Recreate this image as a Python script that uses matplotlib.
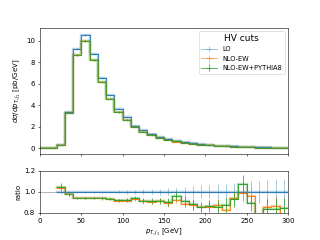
import matplotlib
matplotlib.use("Agg")
import matplotlib.pyplot as plt
import numpy as np

# =================== 数据 (10 GeV bins, 0-300) ===================
bin_edges = np.arange(0, 310, 10)

lo = [0, 0, 0.30, 3.40, 9.26, 10.58, 8.76, 6.56, 4.95, 3.68,
      2.88, 2.12, 1.68, 1.36, 1.07, 0.86, 0.69, 0.56, 0.46, 0.38,
      0.31, 0.26, 0.21, 0.18, 0.15, 0.12, 0.10, 0.085, 0.07, 0.06]
nlo_ew = [0, 0, 0.312, 3.315, 8.667, 9.966, 8.217, 6.140, 4.604, 3.367,
          2.635, 1.982, 1.524, 1.227, 0.974, 0.764, 0.638, 0.496, 0.400, 0.323,
          0.266, 0.227, 0.173, 0.169, 0.148, 0.115, 0.072, 0.0727, 0.0606, 0.0462]
nlo_ew_py8 = [0, 0, 0.315, 3.315, 8.667, 9.966, 8.234, 6.140, 4.618, 3.386,
              2.650, 1.993, 1.537, 1.238, 0.976, 0.774, 0.662, 0.510, 0.404, 0.325,
              0.269, 0.223, 0.183, 0.167, 0.161, 0.107, 0.072, 0.071, 0.0585, 0.0504]

# relative statistical errors
lo_relerr = [0, 0, 0.02, 0.012, 0.008, 0.008, 0.009, 0.01, 0.012, 0.014,
             0.017, 0.02, 0.023, 0.026, 0.03, 0.035, 0.04, 0.05, 0.055, 0.06,
             0.064, 0.07, 0.075, 0.08, 0.088, 0.10, 0.105, 0.11, 0.12, 0.125]
nlo_relerr = [0, 0, 0.025, 0.012, 0.008, 0.008, 0.009, 0.01, 0.012, 0.014,
              0.017, 0.02, 0.023, 0.026, 0.03, 0.035, 0.04, 0.045, 0.05, 0.055,
              0.06, 0.065, 0.07, 0.075, 0.08, 0.09, 0.10, 0.10, 0.11, 0.12]
py8_relerr = [0, 0, 0.035, 0.013, 0.009, 0.009, 0.01, 0.011, 0.013, 0.015,
              0.018, 0.022, 0.025, 0.028, 0.033, 0.04, 0.045, 0.05, 0.055, 0.06,
              0.065, 0.07, 0.075, 0.08, 0.08, 0.09, 0.10, 0.11, 0.12, 0.12]

labels = ["LO", "NLO-EW", "NLO-EW+PYTHIA8"]
colors = ["C0", "C1", "C2"]
err_alpha = [0.45, 0.7, 0.9]

centers = 0.5 * (bin_edges[:-1] + bin_edges[1:])
half_w = 0.5 * np.diff(bin_edges)


def draw_hist(ax, y, err, color, label, ea):
    y = np.asarray(y, dtype=float)
    yy = np.append(y, y[-1])
    # light halo + solid step + error bars
    ax.step(bin_edges, yy, where="post", color=color, lw=3.5, alpha=0.35)
    ax.step(bin_edges, yy, where="post", color=color, lw=1)
    ax.errorbar(centers, y, xerr=half_w, yerr=err, fmt="-", drawstyle="steps-mid",
                color=color, alpha=ea, lw=1.2, elinewidth=1.2, label=label)


fig = plt.figure(figsize=(6.4, 4.8), dpi=50)
ax = fig.add_axes([0.125, 0.358, 0.775, 0.525])
rax = fig.add_axes([0.125, 0.114, 0.775, 0.174], sharex=ax)

series = [lo, nlo_ew, nlo_ew_py8]
relerrs = [lo_relerr, nlo_relerr, py8_relerr]
lo_arr = np.asarray(lo, dtype=float)

for y, re, c, lab, ea in zip(series, relerrs, colors, labels, err_alpha):
    y = np.asarray(y, dtype=float)
    re = np.asarray(re, dtype=float)
    draw_hist(ax, y, y * re, c, lab, ea)

rax.axhline(1.0, color="0.6", lw=1)
with np.errstate(divide="ignore", invalid="ignore"):
    for y, re, c, lab, ea in zip(series, relerrs, colors, labels, err_alpha):
        y = np.asarray(y, dtype=float)
        r = np.where(lo_arr > 0, y / lo_arr, np.nan)
        draw_hist(rax, r, r * np.asarray(re), c, lab, ea)

ax.set_xlim(0, 300)
ax.set_ylabel(r"$d\sigma/dp_{T,j_1}$ [pb/GeV]")
ax.tick_params(labelbottom=False)
ax.legend(title="HV cuts", loc="upper right", fontsize=9.5, title_fontsize=13,
          handlelength=2.4)

rax.set_ylim(0.8, 1.2)
rax.set_yticks([0.8, 1.0, 1.2])
rax.set_ylabel("ratio")
rax.set_xlabel(r"$p_{T,j_1}$ [GeV]")

fig.savefig("out.png", dpi=50)
